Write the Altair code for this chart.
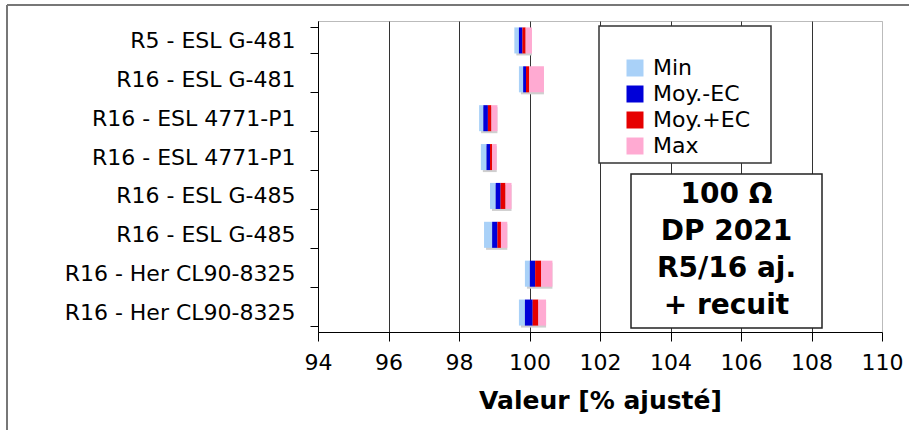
import json
import altair as alt
import pandas as pd

# ---- data ----
labels = ["R5 - ESL G-481", "R16 - ESL G-481", "R16 - ESL 4771-P1", "R16 - ESL 4771-P1",
          "R16 - ESL G-485", "R16 - ESL G-485", "R16 - Her CL90-8325", "R16 - Her CL90-8325"]
mins      = [99.57, 99.70, 98.57, 98.62, 98.88, 98.71, 99.87, 99.70]
moy_minus = [99.70, 99.82, 98.69, 98.78, 99.04, 98.94, 100.01, 99.87]
moys      = [99.80, 99.90, 98.82, 98.88, 99.18, 99.09, 100.16, 100.09]
moy_plus  = [99.89, 99.99, 98.92, 98.94, 99.32, 99.19, 100.33, 100.25]
maxs      = [100.07, 100.41, 99.09, 99.07, 99.49, 99.37, 100.65, 100.47]
series = ["Min", "Moy.-EC", "Moy.+EC", "Max"]
colors = ["#a9d1f8", "#0000d8", "#e60000", "#ffaad2"]
x_ticks = list(range(94, 111, 2))
note_lines = ["100 Ω", "DP 2021", "R5/16 aj.", "+ recuit"]
x_title = "Valeur [% ajusté]"

# ---- tables ----
seg_rows = []
for i in range(len(labels)):
    bounds = [mins[i], moy_minus[i], moys[i], moy_plus[i], maxs[i]]
    for k, s in enumerate(series):
        seg_rows.append({"row": i, "series": s, "start": bounds[k], "end": bounds[k + 1]})
seg = pd.DataFrame(seg_rows)
shadow = pd.DataFrame({"row": list(range(len(labels))), "start": mins, "end": maxs})
dummy = pd.DataFrame({"a": [0]})

label_expr = json.dumps(labels) + "[datum.value]"

yscale = alt.Scale(paddingInner=0.33, paddingOuter=0.165)
xscale = alt.Scale(domain=[94, 110], nice=False, zero=False)

y_axis = alt.Axis(labelExpr=label_expr, tickBand="extent", tickSize=8,
                  labelPadding=15, labelFontSize=22, labelColor="black", labelLimit=400,
                  domainColor="black", tickColor="black", grid=False)
x_axis = alt.Axis(values=x_ticks, tickSize=9, labelPadding=11, labelFontSize=22,
                  labelColor="black", domainColor="black", tickColor="black",
                  titleFontSize=25, titleFontWeight="bold", titleColor="black",
                  titlePadding=15, labelFlush=False,
                  gridColor={"condition": {"test": "datum.value === 110", "value": "#bbbbbb"},
                             "value": "#333333"},
                  gridWidth=1)

enc_y = alt.Y("row:O", scale=yscale, title=None, axis=y_axis)
enc_x = alt.X("start:Q", scale=xscale, title=x_title, axis=x_axis)

shadow_layer = alt.Chart(shadow).mark_bar(color="#cfcfcf", xOffset=2, yOffset=2).encode(
    y=enc_y, x=enc_x, x2="end:Q",
)

bars = alt.Chart(seg).mark_bar().encode(
    y=enc_y, x=enc_x, x2="end:Q",
    color=alt.Color("series:N", scale=alt.Scale(domain=series, range=colors),
                    legend=alt.Legend(title=None, orient="none", legendX=306, legendY=36,
                                      padding=0, symbolType="square", symbolSize=289,
                                      symbolStrokeWidth=0, labelOffset=7, labelFontSize=22,
                                      labelColor="black", rowPadding=4)),
)

border_top = alt.Chart(dummy).mark_rule(color="#777777", strokeWidth=2).encode(
    x=alt.value(-311), x2=alt.value(591), y=alt.value(-16))
border_left = alt.Chart(dummy).mark_rule(color="#777777", strokeWidth=2).encode(
    x=alt.value(-311), y=alt.value(-16), y2=alt.value(409))

legend_box = alt.Chart(dummy).mark_rect(fill="white", stroke="#333333", strokeWidth=1.5).encode(
    x=alt.value(281), x2=alt.value(453), y=alt.value(5), y2=alt.value(142))

note_box = alt.Chart(dummy).mark_rect(fill="white", stroke="#222222", strokeWidth=1.5).encode(
    x=alt.value(313), x2=alt.value(504), y=alt.value(153), y2=alt.value(307))
note_text = alt.Chart(dummy).mark_text(text=note_lines, fontSize=28, fontWeight="bold",
                                       lineHeight=37, align="center", baseline="middle",
                                       color="black").encode(
    x=alt.value(408.5), y=alt.value(174))

chart = alt.layer(border_top, border_left, shadow_layer, bars, legend_box, note_box,
                  note_text).properties(
    width=564, height=311,
    padding={"left": 318, "top": 21, "right": 27, "bottom": 98},
    autosize=alt.AutoSizeParams(type="none"),
).configure(font="DejaVu Sans").configure_view(stroke="#bbbbbb", strokeWidth=1)

chart.save("out.html", embed_options={"renderer": "svg", "actions": False})
